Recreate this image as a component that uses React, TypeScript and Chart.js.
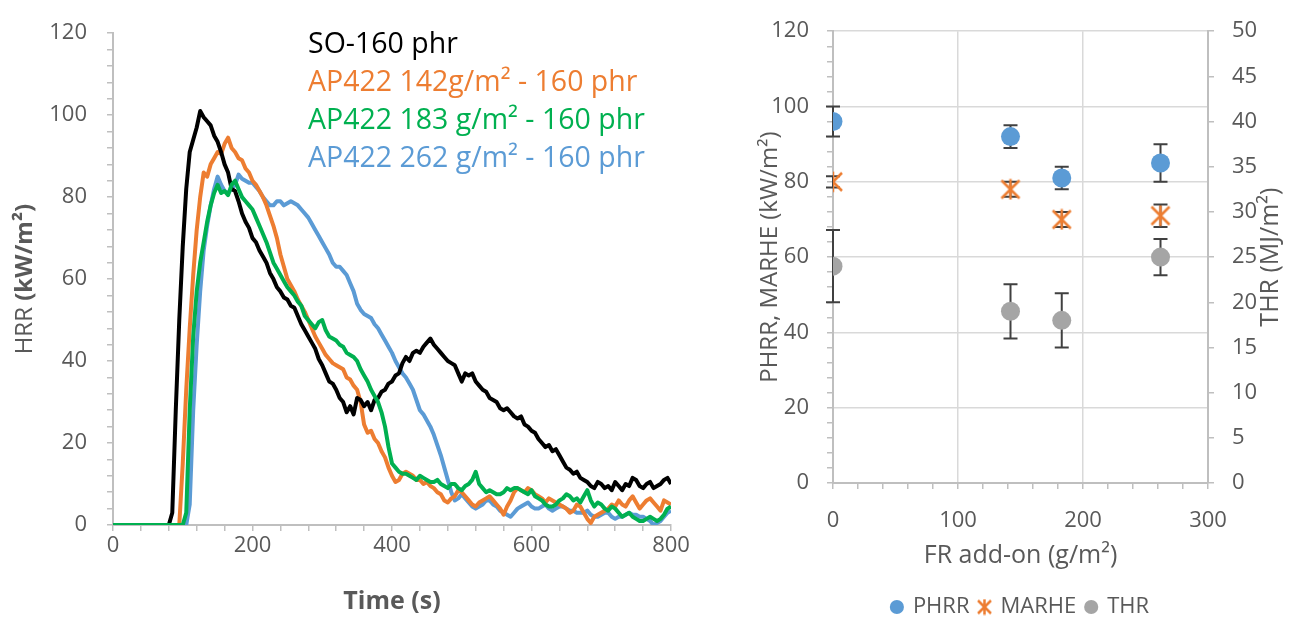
import React, { useEffect, useRef } from 'react';
import { Chart, registerables } from 'chart.js';

Chart.register(...registerables);

const FONT = "'Open Sans', 'Noto Sans', sans-serif";
const TEXT = '#595959';
const AXIS = '#bfbfbf';
const GRID = '#d9d9d9';
const ERR = '#404040';

// ---------- Left chart: HRR vs time ----------
const timeS = [
  0, 10, 20, 30, 40, 50, 60, 70, 80, 85, 90, 95, 100, 105, 110, 115, 120,
  125, 130, 135, 140, 145, 150, 155, 160, 165, 170,
  175, 180, 185, 190, 195, 200, 205, 210, 215, 220,
  225, 230, 235, 240, 245, 250, 255, 260, 265, 270,
  275, 280, 285, 290, 295, 300, 305, 310, 315, 320,
  325, 330, 335, 340, 345, 350, 355, 360, 365, 370,
  375, 380, 385, 390, 395, 400, 405, 410, 415, 420,
  425, 430, 435, 440, 445, 450, 455, 460, 465, 470,
  475, 480, 485, 490, 495, 500, 505, 510, 515, 520,
  525, 530, 535, 540, 545, 550, 555, 560, 565, 570,
  575, 580, 585, 590, 595, 600, 605, 610, 615, 620,
  625, 630, 635, 640, 645, 650, 655, 660, 665, 670,
  675, 680, 685, 690, 695, 700, 705, 710, 715, 720,
  725, 730, 735, 740, 745, 750, 755, 760, 765, 770,
  775, 780, 785, 790, 795, 800,
];

const hrrSO160 = [
  0, 0, 0, 0, 0, 0, 0, 0, 0, 3, 28, 50, 68, 82, 91, 94, 97,
  101, 99.5, 98.5, 97.5, 95, 93.5, 91, 88, 86, 82,
  81.5, 79, 76, 74, 72.5, 70, 69, 67, 65.5, 64,
  61.5, 60, 58, 57, 55.5, 55, 53.5, 53, 51, 49,
  47.5, 46, 44.5, 43, 40.5, 39, 37, 35, 34.5, 33,
  31, 30, 27.5, 29, 27, 31, 30.5, 29, 30, 28,
  30.5, 31, 32.5, 33, 34.5, 35, 36.5, 37, 39.5, 41,
  40, 42, 42.5, 42, 43.5, 44.5, 45.5, 44, 43, 42,
  41, 40, 39.5, 39, 37, 35, 37, 36.5, 37, 35,
  34, 33, 32.5, 31, 30.5, 30, 28.5, 28, 28.5, 27.5,
  26.5, 26, 26.5, 24.5, 24, 23, 22.5, 21, 20, 19,
  19.5, 18, 18.5, 17, 15.5, 14, 13.5, 12.5, 13, 11.5,
  11, 10.5, 9.5, 9, 10.5, 10, 9, 9.5, 8.5, 10.5,
  9.5, 8.5, 10, 9.5, 11.5, 11, 9.5, 9, 10, 10.5,
  9, 9.5, 10, 11, 11.5, 10,
];

const hrrAP142 = [
  0, 0, 0, 0, 0, 0, 0, 0, 0, 0, 0, 0, 15, 33, 48, 61, 72,
  80, 86, 85, 88, 89.5, 91, 90.5, 93, 94.5, 92,
  91, 89.5, 89, 87, 86, 84, 83, 81.5, 80, 78,
  75.5, 73, 70, 66, 63, 60, 58.5, 57, 55, 53.5,
  52, 50, 48, 46, 44.5, 43, 41.5, 40.5, 39.5, 39,
  38.5, 38, 36, 35.5, 34, 33, 30, 24.5, 22.5, 23,
  21, 20, 18, 16.5, 14, 12, 10.5, 11, 12.5, 13,
  12.5, 12, 11, 11, 10, 10.5, 9.5, 9, 8, 7.5,
  6, 5.5, 6.5, 7, 8.5, 8, 7, 6, 5, 4.5,
  5.5, 6, 6.5, 7, 6, 5, 4, 2.5, 4.5, 6,
  8, 9, 8.5, 8, 9, 8.5, 7.5, 7, 6.5, 5.5,
  6.5, 6, 5.5, 5, 4.5, 4, 3, 3.5, 5, 4.5,
  3, 1.5, 0.5, 2, 2.5, 3, 3.5, 4, 5, 4.5,
  6, 5, 4.5, 6, 7, 5.5, 4, 5, 6, 6.5,
  5.5, 4.5, 3.5, 6, 5.5, 5,
];

const hrrAP183 = [
  0, 0, 0, 0, 0, 0, 0, 0, 0, 0, 0, 0, 0, 3, 28, 46, 57,
  64, 69, 74, 78, 81, 83, 81, 81.5, 80.5, 83,
  84, 82, 80, 79, 78, 77, 75, 73, 71, 69,
  66.5, 64, 62.5, 61, 59.5, 58, 57, 56, 54.5, 53.5,
  51, 50, 49, 48, 49.5, 50, 47.5, 46, 45.5, 45,
  44, 43.5, 42, 41.5, 41, 40, 38, 36.5, 35, 33,
  31.5, 30, 27.5, 24, 19, 15, 14, 13, 12.5, 12.5,
  12, 11.5, 11, 12, 11.5, 11, 10.5, 10.5, 11, 10,
  9.5, 9, 10, 10, 9, 8.5, 9.5, 10, 11, 13,
  10, 9, 8, 8.5, 8, 7.5, 7.5, 8, 9, 8.5,
  9, 9, 8.5, 8, 7.5, 8.5, 7, 6.5, 6, 5,
  4.5, 4.5, 5, 6, 6.5, 7.5, 7, 6, 6.5, 5.5,
  7, 8.5, 6, 4.5, 5.5, 5, 4, 3.5, 4.5, 4,
  3, 2, 2.5, 3, 2, 1.5, 1, 1, 1.5, 2,
  1.5, 1, 1.5, 2.5, 4, 4.5,
];

const hrrAP262 = [
  0, 0, 0, 0, 0, 0, 0, 0, 0, 0, 0, 0, 0, 0, 5, 28, 44,
  57, 67, 73, 78, 82, 85, 83, 81.5, 81, 82,
  83, 85.5, 84.5, 84, 83.5, 83.5, 82.5, 81.5, 80, 79,
  78, 78, 79, 79, 78, 78.5, 79, 78.5, 78, 77,
  76, 75, 73.5, 72, 70.5, 69, 67.5, 66, 64, 63,
  63, 62, 61, 59, 57, 54, 52.5, 51.5, 51, 50.5,
  49, 48, 46.5, 45, 43.5, 42, 40, 38.5, 37, 36,
  34.5, 33, 30.5, 28, 27, 25.5, 24, 22, 19.5, 17,
  14, 11, 8, 6, 6.5, 7.5, 6.5, 5.5, 4.5, 4,
  4.5, 5, 6, 6, 5, 4.5, 3.5, 3, 2.5, 2,
  3, 4, 4.5, 5, 5.5, 4.5, 4, 4, 4.5, 5,
  4, 3.5, 4, 4.5, 4.5, 4, 3.5, 3.5, 3, 3,
  3, 3.5, 2.5, 2, 2, 2.5, 3, 3, 2, 1.5,
  2, 2, 2.5, 3, 2.5, 2.5, 2, 2, 1.5, 1,
  0, 0.5, 1, 2, 3, 3.5,
];

const hrrNames = [
  'SO-160 phr',
  'AP422 142g/m² - 160 phr',
  'AP422 183 g/m² - 160 phr',
  'AP422 262 g/m² - 160 phr',
];
const hrrColors = ['#000000', '#ed7d31', '#00b050', '#5b9bd5'];
const hrrDrawOrder = [1, 2, 0, 3]; // lower = on top

// ---------- Right chart: PHRR / MARHE / THR vs FR add-on ----------
const frAddOn = [0, 142, 183, 262];
const phrr = [96, 92, 81, 85];
const phrrErr = [4, 3, 3, 5];
const marhe = [80, 78, 70, 71];
const marheErr = [1.5, 2, 2, 3];
const thr = [24, 19, 18, 25];
const thrErr = [4, 3, 3, 2];
const rightNames = ['PHRR', 'MARHE', 'THR'];
const rightColors = ['#5b9bd5', '#ed7d31', '#a5a5a5'];

function makeStar(size: number, lw: number): HTMLCanvasElement {
  const c = document.createElement('canvas');
  c.width = size;
  c.height = size;
  const g = c.getContext('2d')!;
  g.strokeStyle = '#ed7d31';
  g.lineWidth = lw;
  const m = lw * 0.8;
  g.beginPath();
  g.moveTo(m, m);
  g.lineTo(size - m, size - m);
  g.moveTo(size - m, m);
  g.lineTo(m, size - m);
  g.moveTo(size / 2, m * 0.4);
  g.lineTo(size / 2, size - m * 0.4);
  g.stroke();
  return c;
}

function drawMixedVertical(ctx: CanvasRenderingContext2D, cx: number, cy: number, parts: { t: string; bold: boolean }[], size: number, dir: number) {
  ctx.save();
  ctx.translate(cx, cy);
  ctx.rotate(dir);
  ctx.textBaseline = 'middle';
  ctx.textAlign = 'left';
  let total = 0;
  const widths = parts.map((p) => {
    ctx.font = `${p.bold ? 'bold ' : ''}${size}px ${FONT}`;
    const w = ctx.measureText(p.t).width;
    total += w;
    return w;
  });
  let x = -total / 2;
  parts.forEach((p, i) => {
    ctx.font = `${p.bold ? 'bold ' : ''}${size}px ${FONT}`;
    ctx.fillText(p.t, x, 0);
    x += widths[i];
  });
  ctx.restore();
}

const leftDecor = {
  id: 'leftDecor',
  afterDraw(chart: any) {
    const { ctx, chartArea } = chart;
    ctx.save();
    ctx.fillStyle = TEXT;
    ctx.font = `bold 25px ${FONT}`;
    ctx.textAlign = 'center';
    ctx.textBaseline = 'middle';
    ctx.fillText('Time (s)', (chartArea.left + chartArea.right) / 2, 602);
    drawMixedVertical(ctx, 25, (chartArea.top + chartArea.bottom) / 2,
      [{ t: 'HRR ', bold: false }, { t: '(kW/m²)', bold: true }], 24, -Math.PI / 2);
    ctx.font = `28.5px ${FONT}`;
    ctx.textAlign = 'left';
    ctx.textBaseline = 'middle';
    hrrNames.forEach((name, i) => {
      ctx.fillStyle = hrrColors[i];
      ctx.fillText(name, chartArea.left + 195, chartArea.top + 12 + i * 38);
    });
    ctx.restore();
  },
};

const rightDecor = {
  id: 'rightDecor',
  beforeDatasetsDraw(chart: any) {
    const { ctx } = chart;
    ctx.save();
    ctx.strokeStyle = ERR;
    ctx.lineWidth = 2;
    chart.data.datasets.forEach((ds: any) => {
      const errs = ds.errorBars;
      if (!errs) return;
      const ys = chart.scales[ds.yAxisID];
      const xs = chart.scales.x;
      ds.data.forEach((p: any, j: number) => {
        const px = xs.getPixelForValue(p.x);
        const top = ys.getPixelForValue(p.y + errs[j]);
        const bot = ys.getPixelForValue(p.y - errs[j]);
        ctx.beginPath();
        ctx.moveTo(px, top);
        ctx.lineTo(px, bot);
        ctx.moveTo(px - 7, top);
        ctx.lineTo(px + 7, top);
        ctx.moveTo(px - 7, bot);
        ctx.lineTo(px + 7, bot);
        ctx.stroke();
      });
    });
    ctx.restore();
  },
  afterDraw(chart: any) {
    const { ctx, chartArea } = chart;
    ctx.save();
    ctx.fillStyle = TEXT;
    ctx.font = `25px ${FONT}`;
    ctx.textAlign = 'center';
    ctx.textBaseline = 'middle';
    ctx.fillText('FR add-on (g/m²)', (chartArea.left + chartArea.right) / 2, 556);
    const cy = (chartArea.top + chartArea.bottom) / 2;
    drawMixedVertical(ctx, 50, cy, [{ t: 'PHRR, MARHE (kW/m²)', bold: false }], 24, -Math.PI / 2);
    drawMixedVertical(ctx, 551, cy, [{ t: 'THR (MJ/m²)', bold: false }], 25, -Math.PI / 2);
    ctx.restore();
  },
};

const tickFont = { family: FONT, size: 22 };

export default function App() {
  const leftRef = useRef<HTMLCanvasElement>(null);
  const rightRef = useRef<HTMLCanvasElement>(null);

  useEffect(() => {
    const left = new Chart(leftRef.current!, {
      type: 'line',
      data: {
        datasets: [hrrSO160, hrrAP142, hrrAP183, hrrAP262].map((ys, i) => ({
          label: hrrNames[i],
          data: timeS.map((t, k) => ({ x: t, y: ys[k] })),
          borderColor: hrrColors[i],
          backgroundColor: hrrColors[i],
          borderWidth: 4,
          pointRadius: 0,
          tension: 0,
          fill: false,
          borderJoinStyle: 'round',
          order: hrrDrawOrder[i],
        })),
      },
      options: {
        responsive: false,
        animation: false,
        events: [],
        layout: { padding: { top: 27, right: 29, left: 0, bottom: 0 } },
        plugins: { legend: { display: false }, tooltip: { enabled: false } },
        scales: {
          x: {
            type: 'linear',
            min: 0,
            max: 800,
            ticks: {
              stepSize: 40,
              autoSkip: false,
              maxRotation: 0,
              color: TEXT,
              font: tickFont,
              padding: 2,
              callback: (v: any) => (v % 200 === 0 ? String(v) : ''),
            },
            grid: { display: true, drawOnChartArea: false, drawTicks: true, tickLength: 6, color: AXIS, lineWidth: 1.5 },
            border: { display: true, color: AXIS, width: 2 },
            afterFit: (s: any) => { s.height = 99; },
          },
          y: {
            min: 0,
            max: 120,
            ticks: {
              stepSize: 4,
              autoSkip: false,
              color: TEXT,
              font: tickFont,
              padding: 20,
              callback: (v: any) => (v % 20 === 0 ? String(v) : ''),
            },
            grid: { display: true, drawOnChartArea: false, drawTicks: true, tickLength: 6, color: AXIS, lineWidth: 1.5 },
            border: { display: true, color: AXIS, width: 2 },
            afterFit: (s: any) => { s.width = 113; },
          },
        },
      },
      plugins: [leftDecor],
    } as any);

    const starBig = makeStar(22, 2.5);
    const starSmall = makeStar(17, 2.5);

    const right = new Chart(rightRef.current!, {
      type: 'scatter',
      data: {
        datasets: [
          {
            label: rightNames[0],
            data: frAddOn.map((x, i) => ({ x, y: phrr[i] })),
            errorBars: phrrErr,
            yAxisID: 'y',
            pointStyle: 'circle',
            pointRadius: 9.5,
            backgroundColor: rightColors[0],
            borderColor: rightColors[0],
            borderWidth: 0,
          },
          {
            label: rightNames[1],
            data: frAddOn.map((x, i) => ({ x, y: marhe[i] })),
            errorBars: marheErr,
            yAxisID: 'y',
            pointStyle: starBig,
            pointRadius: 11,
            backgroundColor: rightColors[1],
            borderColor: rightColors[1],
          },
          {
            label: rightNames[2],
            data: frAddOn.map((x, i) => ({ x, y: thr[i] })),
            errorBars: thrErr,
            yAxisID: 'y2',
            pointStyle: 'circle',
            pointRadius: 9.5,
            backgroundColor: rightColors[2],
            borderColor: rightColors[2],
            borderWidth: 0,
          },
        ],
      },
      options: {
        responsive: false,
        animation: false,
        events: [],
        layout: { padding: { top: 27, right: 0, left: 0, bottom: -4 } },
        plugins: {
          tooltip: { enabled: false },
          legend: {
            display: true,
            position: 'bottom',
            fullSize: false,
            labels: {
              usePointStyle: true,
              boxWidth: 10,
              boxHeight: 10,
              padding: 10,
              color: TEXT,
              font: { family: FONT, size: 22 },
              generateLabels: (chart: any) => {
                const items = Chart.defaults.plugins.legend.labels.generateLabels(chart);
                items.forEach((it: any) => {
                  if (it.text === 'MARHE') it.pointStyle = starSmall;
                  it.lineWidth = 0;
                });
                return items;
              },
            },
          },
        },
        scales: {
          x: {
            type: 'linear',
            min: 0,
            max: 300,
            ticks: {
              stepSize: 20,
              autoSkip: false,
              maxRotation: 0,
              color: TEXT,
              font: tickFont,
              padding: 19,
              callback: (v: any) => (v % 100 === 0 ? String(v) : ''),
            },
            grid: {
              display: true,
              drawTicks: true,
              tickLength: 6,
              lineWidth: 1.5,
              color: (c: any) => (c.tick && c.tick.value % 100 === 0 ? GRID : 'rgba(0,0,0,0)'),
              tickColor: AXIS,
            },
            border: { display: true, color: AXIS, width: 2 },
            afterFit: (s: any) => { s.height = 103; },
          },
          y: {
            position: 'left',
            min: 0,
            max: 120,
            ticks: {
              stepSize: 4,
              autoSkip: false,
              color: TEXT,
              font: tickFont,
              padding: 18,
              callback: (v: any) => (v % 20 === 0 ? String(v) : ''),
            },
            grid: {
              display: true,
              drawTicks: true,
              tickLength: 6,
              lineWidth: 1.5,
              color: (c: any) => (c.tick && c.tick.value % 20 === 0 ? GRID : 'rgba(0,0,0,0)'),
              tickColor: AXIS,
            },
            border: { display: true, color: AXIS, width: 2 },
            afterFit: (s: any) => { s.width = 113; },
          },
          y2: {
            position: 'right',
            min: 0,
            max: 50,
            ticks: {
              stepSize: 5,
              autoSkip: false,
              color: TEXT,
              font: tickFont,
              padding: 18,
            },
            grid: { display: true, drawOnChartArea: false, drawTicks: true, tickLength: 6, lineWidth: 1.5, color: AXIS },
            border: { display: true, color: AXIS, width: 2 },
            afterFit: (s: any) => { s.width = 87; },
          },
        },
      },
      plugins: [rightDecor],
    } as any);

    return () => {
      left.destroy();
      right.destroy();
    };
  }, []);

  return (
    <div style={{ position: 'absolute', left: 0, top: 0, width: 1295, height: 624, background: '#ffffff' }}>
      <canvas ref={leftRef} width={700} height={624} style={{ position: 'absolute', left: 0, top: 0, width: 700, height: 624 }} />
      <canvas ref={rightRef} width={575} height={624} style={{ position: 'absolute', left: 720, top: 0, width: 575, height: 624 }} />
    </div>
  );
}
